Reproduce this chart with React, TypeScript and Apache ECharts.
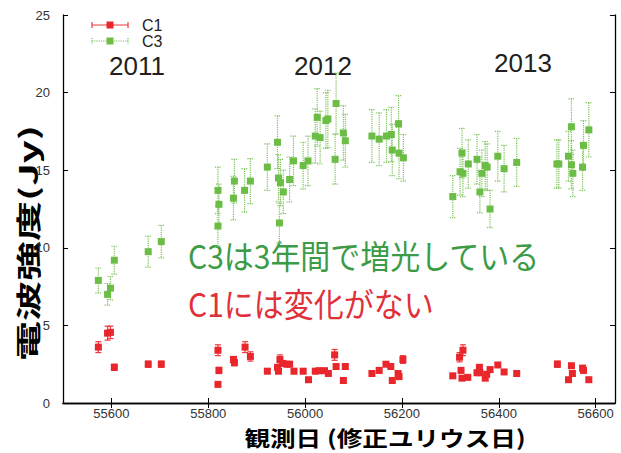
import React, { useEffect, useRef } from "react";
import * as echarts from "echarts";

// ---- data ----
const c3Dates = [55573,55592,55598,55606,55676,55703,55820,55822,55820,55852,55854,55875,55887,55922,55943,55945,55949,55955,55947,55968,55976,55996,56006,56021,56025,56031,56043,56047,56064,56062,56079,56083,56138,56153,56168,56178,56180,56193,56194,56203,56305,56320,56324,56326,56337,56355,56361,56365,56372,56376,56382,56398,56411,56437,56520,56524,56544,56550,56550,56553,56573,56575,56586];
const c3Flux = [7.9,7.0,7.4,9.2,9.75,10.4,13.7,12.8,11.4,13.2,14.3,13.7,14.3,15.2,16.8,14.5,14.2,13.6,11.6,14.4,15.6,15.3,15.6,17.2,18.4,17.1,18.2,18.3,19.3,15.7,17.4,16.9,17.2,17.0,17.2,17.3,16.3,18.0,16.1,15.8,13.3,14.9,16.1,14.8,15.4,15.7,13.6,14.8,15.3,15.2,12.5,15.9,15.1,15.5,15.4,15.4,15.9,17.8,15.35,14.8,15.2,16.6,17.6];
const c3Err = [0.8,0.7,0.75,0.9,1.0,1.05,1.5,1.3,1.3,1.4,1.4,1.4,1.45,1.5,1.7,1.5,1.5,1.4,1.3,1.45,1.6,1.5,1.6,1.75,1.85,1.7,1.8,1.85,1.95,1.6,1.75,1.7,1.7,1.7,1.7,1.75,1.65,1.8,1.65,1.5,1.35,1.5,1.6,1.5,1.55,1.6,1.35,1.5,1.55,1.5,1.2,1.6,1.5,1.55,1.55,1.55,1.6,1.8,1.55,1.5,1.5,1.6,1.75];

const c1Dates = [55573,55592,55598,55606,55676,55703,55820,55822,55820,55852,55854,55876,55887,55922,55943,55945,55948,55954,55962,55968,55977,55996,56007,56021,56029,56040,56048,56061,56064,56079,56083,56138,56153,56167,56177,56180,56192,56194,56202,56305,56319,56326,56322,56324,56336,56355,56360,56361,56372,56375,56382,56398,56411,56437,56521,56544,56550,56552,56573,56575,56586];
const c1Flux = [3.6,4.5,4.55,2.3,2.5,2.5,3.4,2.1,1.2,2.8,2.6,3.6,3.0,2.05,2.3,2.05,2.8,2.55,2.5,2.5,2.05,2.05,1.5,2.05,2.08,2.08,1.9,3.1,2.35,1.45,2.35,1.9,2.1,2.5,2.35,1.45,1.9,1.7,2.8,1.75,2.95,3.4,2.1,1.6,1.65,1.95,2.3,1.95,1.6,1.85,2.15,2.45,2.0,1.9,2.5,1.5,2.4,1.9,2.25,2.1,1.5];
const c1Err = [0.35,0.45,0.4,0.2,0.2,0.2,0.35,0.2,0.1,0.2,0.2,0.35,0.3,0.15,0.15,0.15,0.3,0.15,0.15,0.15,0.15,0.15,0.12,0.15,0.15,0.15,0.15,0.35,0.15,0.12,0.15,0.15,0.15,0.15,0.15,0.12,0.15,0.12,0.25,0.15,0.3,0.35,0.15,0.12,0.12,0.15,0.15,0.15,0.12,0.15,0.15,0.15,0.15,0.15,0.2,0.12,0.15,0.15,0.15,0.15,0.12];

const xTicks = [55600, 55800, 56000, 56200, 56400, 56600];
const seriesNames = ["C1", "C3"];
const yearLabels = ["2011", "2012", "2013"];
const noteC3 = "C3は3年間で増光している";
const noteC1 = "C1には変化がない";
const xTitle = "観測日 (修正ユリウス日)";
const yTitle = "電波強度(Jy)";

const RED = "#e8262c";
const RED_BAR = "#ee3a40";
const GREEN = "#6bbd45";
const GREEN_BAR = "#7cc45a";

function errRender(color: string, dashed: boolean) {
  return (params: any, api: any) => {
    const x = api.value(0);
    const y = api.value(1);
    const e = api.value(2);
    const top = api.coord([x, y + e]);
    const bot = api.coord([x, y - e]);
    const cap = 3;
    const style: any = { stroke: color, lineWidth: 1.2, lineDash: dashed ? [1.2, 1] : null };
    return {
      type: "group",
      children: [
        { type: "line", shape: { x1: top[0], y1: top[1], x2: bot[0], y2: bot[1] }, style },
        { type: "line", shape: { x1: top[0] - cap, y1: top[1], x2: top[0] + cap, y2: top[1] }, style },
        { type: "line", shape: { x1: bot[0] - cap, y1: bot[1], x2: bot[0] + cap, y2: bot[1] }, style },
      ],
    };
  };
}

export default function App() {
  const ref = useRef<HTMLDivElement>(null);
  useEffect(() => {
    if (!ref.current) return;
    const chart = echarts.init(ref.current, undefined, { renderer: "svg" });
    const c3 = c3Dates.map((d, i) => [d, c3Flux[i], c3Err[i]]);
    const c1 = c1Dates.map((d, i) => [d, c1Flux[i], c1Err[i]]);
    const axisLine = { show: true, lineStyle: { color: "#000", width: 1.3 } };
    const labelFont = { fontFamily: "Liberation Sans, Arial, sans-serif", fontSize: 13, color: "#333" };
    const legendRow = (y: number, color: string, barColor: string, dashed: boolean, name: string) => {
      const st: any = { stroke: barColor, lineWidth: 1.2, lineDash: dashed ? [1.2, 1] : null };
      return [
        { type: "line", shape: { x1: 92, y1: y, x2: 128, y2: y }, style: st },
        { type: "line", shape: { x1: 92, y1: y - 3, x2: 92, y2: y + 3 }, style: st },
        { type: "line", shape: { x1: 128, y1: y - 3, x2: 128, y2: y + 3 }, style: st },
        { type: "rect", shape: { x: 106.5, y: y - 3.5, width: 7, height: 7 }, style: { fill: color } },
        {
          type: "text", x: 142, y: y,
          style: { text: name, fontSize: 16, fontFamily: "Liberation Sans, Arial, sans-serif", fill: "#222", verticalAlign: "middle", align: "left" },
        },
      ];
    };
    chart.setOption({
      animation: false,
      backgroundColor: "#fff",
      grid: { left: 63, right: 6, top: 15, bottom: 50 },
      xAxis: [
        {
          type: "value", min: 55500, max: 56640, position: "bottom",
          axisLine, splitLine: { show: false },
          axisTick: { show: true, inside: true, length: 5, lineStyle: { color: "#000" }, customValues: xTicks },
          axisLabel: { ...labelFont, margin: 4, customValues: xTicks, formatter: (v: number) => String(v) },
        },
        {
          type: "value", min: 55500, max: 56640, position: "top",
          axisLine, splitLine: { show: false },
          axisTick: { show: true, inside: true, length: 5, lineStyle: { color: "#000" }, customValues: xTicks },
          axisLabel: { show: false },
        },
      ],
      yAxis: [
        {
          type: "value", min: 0, max: 25, interval: 5, position: "left",
          axisLine, splitLine: { show: false },
          axisTick: { show: true, inside: true, length: 5, lineStyle: { color: "#000" } },
          axisLabel: { ...labelFont, margin: 13 },
        },
        {
          type: "value", min: 0, max: 25, interval: 5, position: "right",
          axisLine, splitLine: { show: false },
          axisTick: { show: true, inside: true, length: 5, lineStyle: { color: "#000" } },
          axisLabel: { show: false },
        },
      ],
      series: [
        { type: "custom", name: seriesNames[1] + "err", renderItem: errRender(GREEN_BAR, true), data: c3, encode: { x: 0, y: 1 }, z: 2 },
        { type: "scatter", name: seriesNames[1], data: c3.map((d) => [d[0], d[1]]), symbol: "rect", symbolSize: 7, itemStyle: { color: GREEN, opacity: 1 }, z: 3 },
        { type: "custom", name: seriesNames[0] + "err", renderItem: errRender(RED_BAR, false), data: c1, encode: { x: 0, y: 1 }, z: 2 },
        { type: "scatter", name: seriesNames[0], data: c1.map((d) => [d[0], d[1]]), symbol: "rect", symbolSize: 7, itemStyle: { color: RED, opacity: 1 }, z: 3 },
      ],
      graphic: [
        ...legendRow(25, RED, RED_BAR, false, seriesNames[0]),
        ...legendRow(41, GREEN, GREEN_BAR, true, seriesNames[1]),
        ...yearLabels.map((t, i) => ({
          type: "text", x: [137, 323, 523][i], y: [66, 66, 63][i],
          style: { text: t, fontSize: 26, fontFamily: "Liberation Sans, Arial, sans-serif", fill: "#231f20", align: "center", verticalAlign: "middle" },
        })),
        {
          type: "text", x: 188, y: 254, scaleY: 1.1,
          style: { text: noteC3, fontSize: 30, fontFamily: "Noto Sans CJK JP", fill: "#3c9b46", align: "left", verticalAlign: "middle" },
        },
        {
          type: "text", x: 188, y: 302, scaleY: 1.1,
          style: { text: noteC1, fontSize: 30, fontFamily: "Noto Sans CJK JP", fill: "#df313a", align: "left", verticalAlign: "middle" },
        },
        {
          type: "text", x: 385, y: 437, scaleX: 1.22,
          style: { text: xTitle, fontSize: 21, lineHeight: 21, fontWeight: "bold", fontFamily: "Noto Sans CJK JP", fill: "#000", align: "center", verticalAlign: "middle" },
        },
        {
          type: "text", x: 27, y: 243, rotation: Math.PI / 2, scaleX: 1, scaleY: 0.62,
          style: { text: yTitle, fontSize: 40, lineHeight: 36, fontWeight: "bold", fontFamily: "Noto Sans CJK JP", fill: "#000", align: "center", verticalAlign: "middle" },
        },
      ],
    });
    return () => chart.dispose();
  }, []);
  return <div ref={ref} style={{ position: "fixed", left: 0, top: 0, width: 621, height: 453 }} />;
}
